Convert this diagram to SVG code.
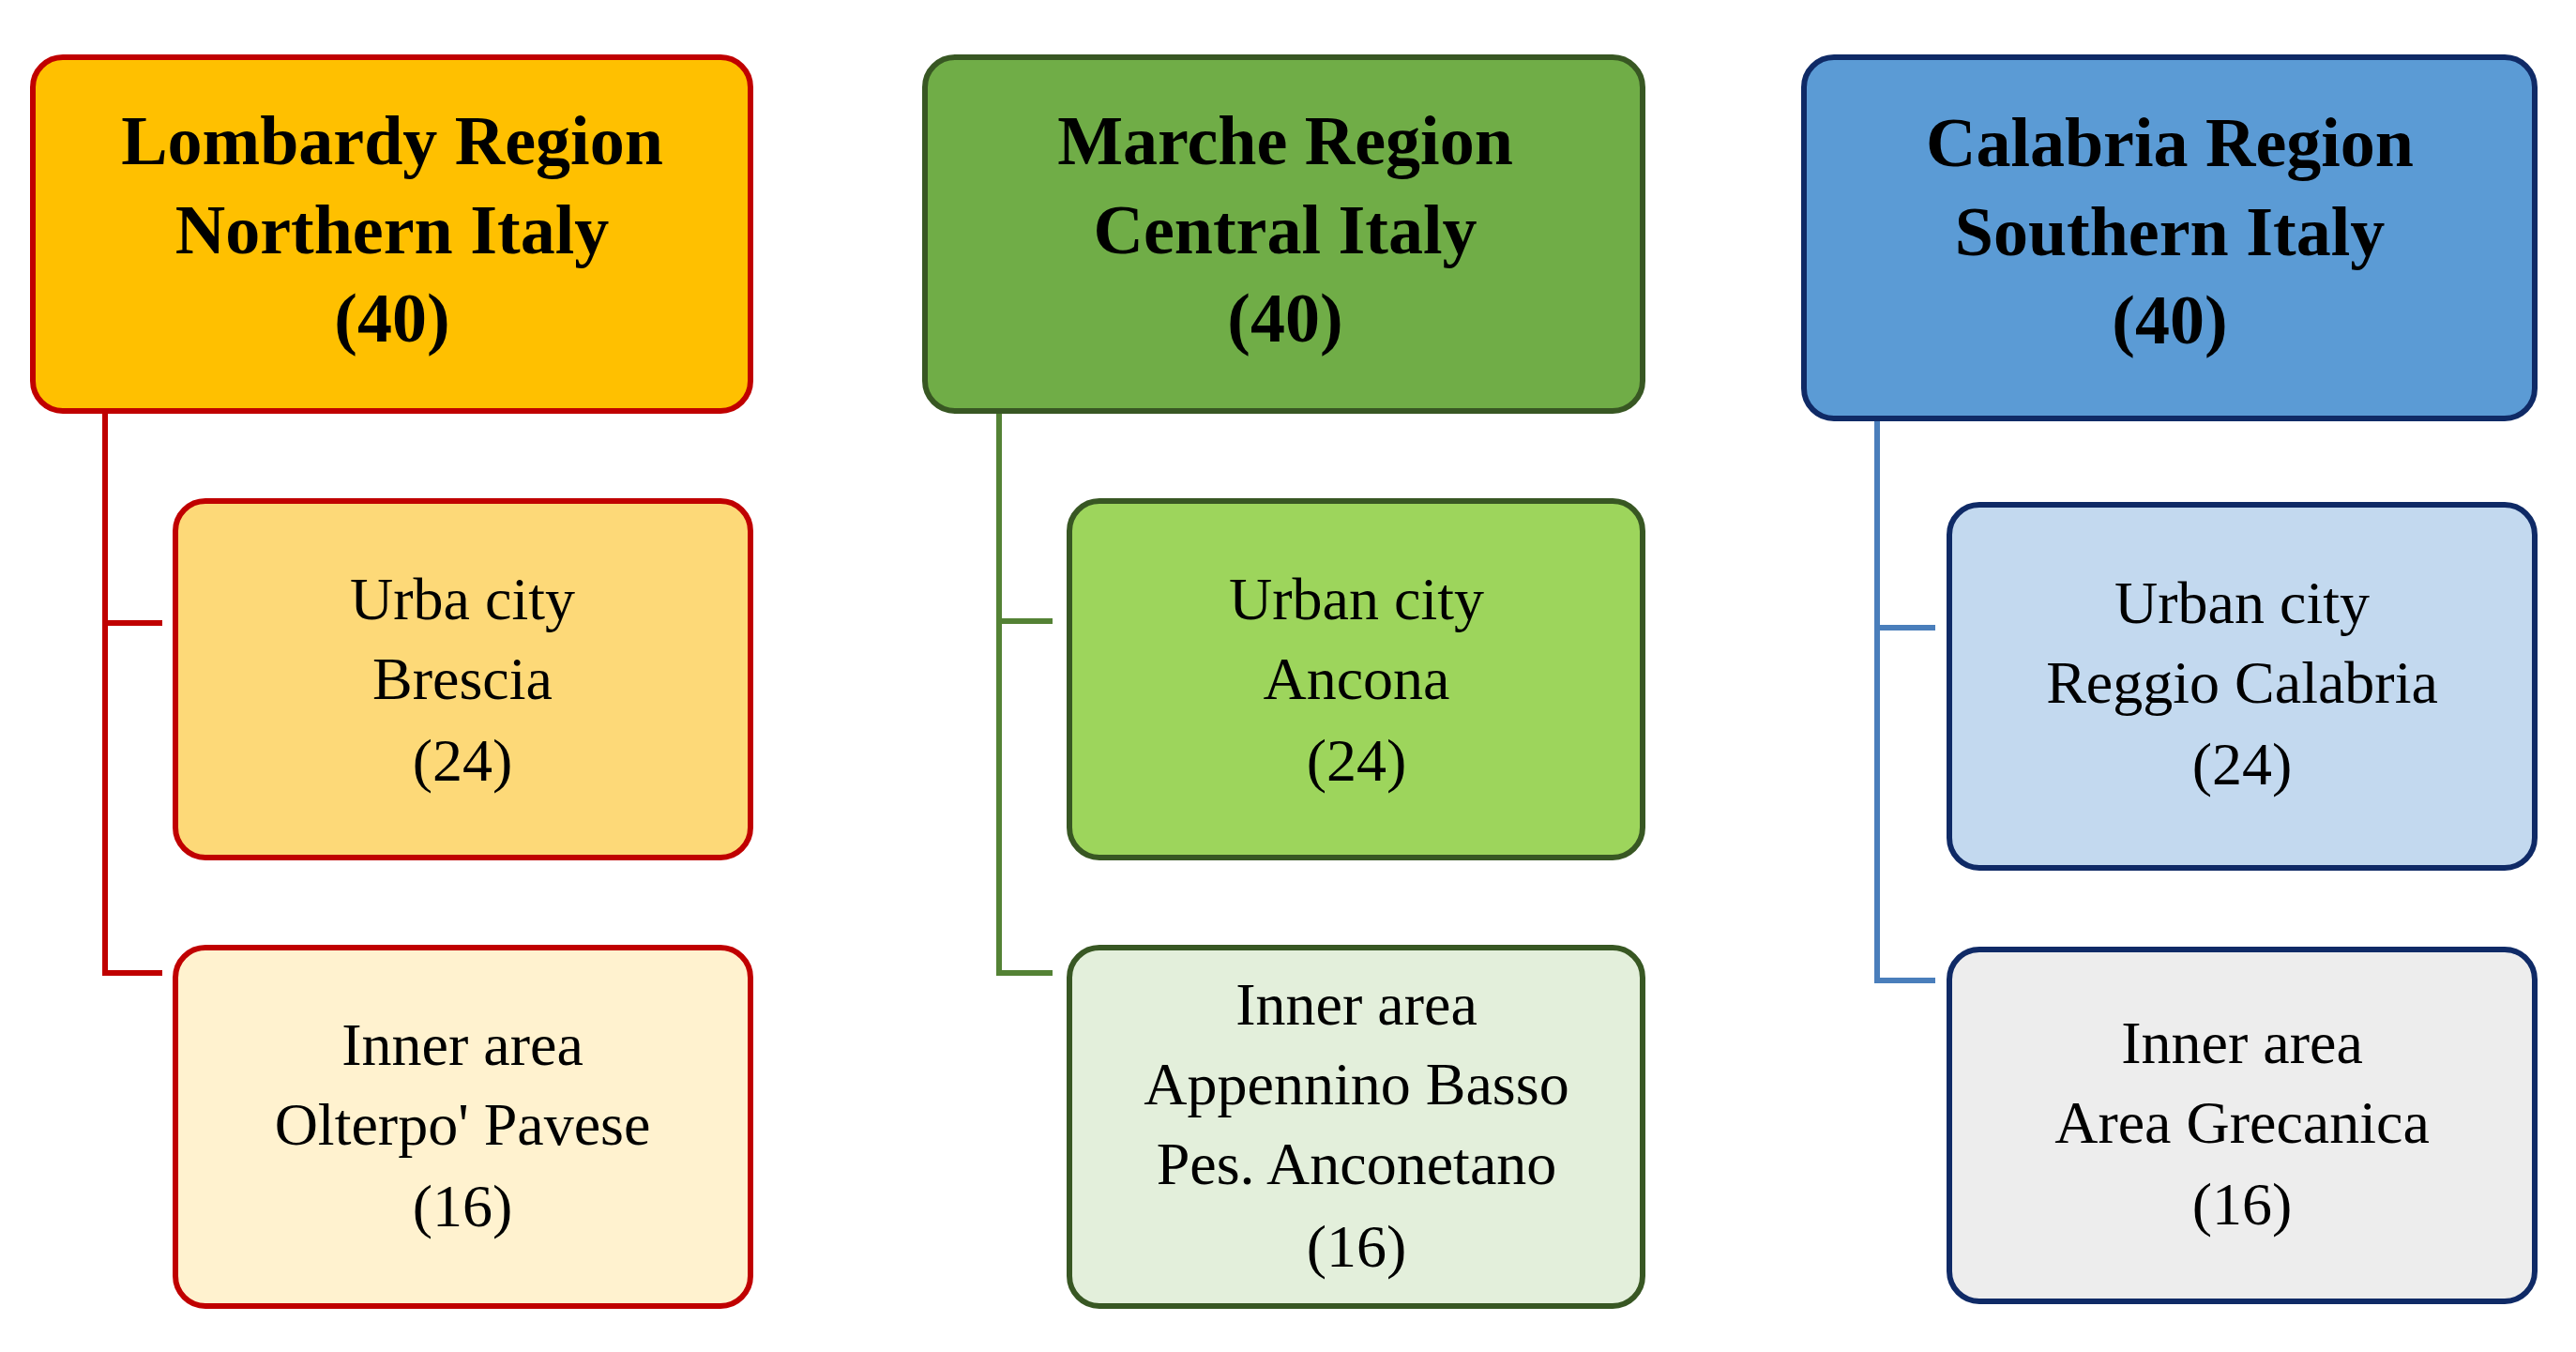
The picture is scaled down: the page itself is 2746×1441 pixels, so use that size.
<svg xmlns="http://www.w3.org/2000/svg" width="2746" height="1441" viewBox="0 0 2746 1441">
<style>
text{font-family:"Liberation Serif","DejaVu Serif",serif;text-anchor:middle;fill:#000}
.t{font-size:74px;font-weight:bold}
.s{font-size:64px}
rect{stroke-width:6}
.c{fill:none;stroke-width:6}
</style>
<rect width="2746" height="1441" fill="#fff"/>
<g id="connectors">
<path class="c" stroke="#C00000" d="M112 438V1037H173M112 664H173"/>
<path class="c" stroke="#548235" d="M1065 438V1037H1122M1065 662H1122"/>
<path class="c" stroke="#4A7EBB" d="M2001 446V1045H2063M2001 669H2063"/>
</g>
<g id="lombardy">
<rect x="35" y="61" width="765" height="377" rx="32" fill="#FFC000" stroke="#C00000"/>
<text class="t" x="418" y="175">Lombardy Region</text><text class="t" x="418" y="270">Northern Italy</text><text class="t" x="418" y="364">(40)</text>
</g>
<g id="brescia">
<rect x="187" y="534" width="613" height="380" rx="32" fill="#FDD978" stroke="#C00000"/>
<text class="s" x="493" y="660">Urba city</text><text class="s" x="493" y="745">Brescia</text><text class="s" x="493" y="832">(24)</text>
</g>
<g id="oltrepo">
<rect x="187" y="1010" width="613" height="382" rx="32" fill="#FFF2CF" stroke="#C00000"/>
<text class="s" x="493" y="1135">Inner area</text><text class="s" x="493" y="1220">Olterpo' Pavese</text><text class="s" x="493" y="1307">(16)</text>
</g>
<g id="marche">
<rect x="986" y="61" width="765" height="377" rx="32" fill="#70AD47" stroke="#385723"/>
<text class="t" x="1370" y="175">Marche Region</text><text class="t" x="1370" y="270">Central Italy</text><text class="t" x="1370" y="364">(40)</text>
</g>
<g id="ancona">
<rect x="1140" y="534" width="611" height="380" rx="32" fill="#9DD55C" stroke="#385723"/>
<text class="s" x="1446" y="660">Urban city</text><text class="s" x="1446" y="745">Ancona</text><text class="s" x="1446" y="832">(24)</text>
</g>
<g id="appennino">
<rect x="1140" y="1010" width="611" height="382" rx="32" fill="#E3EFDB" stroke="#385723"/>
<text class="s" x="1446" y="1092">Inner area</text><text class="s" x="1446" y="1177">Appennino Basso</text><text class="s" x="1446" y="1262">Pes. Anconetano</text><text class="s" x="1446" y="1350">(16)</text>
</g>
<g id="calabria">
<rect x="1923" y="61" width="779" height="385" rx="32" fill="#5B9BD5" stroke="#0F2A66"/>
<text class="t" x="2313" y="177">Calabria Region</text><text class="t" x="2313" y="272">Southern Italy</text><text class="t" x="2313" y="366">(40)</text>
</g>
<g id="reggio">
<rect x="2078" y="538" width="624" height="387" rx="32" fill="#C3D9EF" stroke="#0F2A66"/>
<text class="s" x="2390" y="664">Urban city</text><text class="s" x="2390" y="749">Reggio Calabria</text><text class="s" x="2390" y="836">(24)</text>
</g>
<g id="grecanica">
<rect x="2078" y="1012" width="624" height="375" rx="32" fill="#EDEDED" stroke="#0F2A66"/>
<text class="s" x="2390" y="1133">Inner area</text><text class="s" x="2390" y="1218">Area Grecanica</text><text class="s" x="2390" y="1305">(16)</text>
</g>
</svg>
